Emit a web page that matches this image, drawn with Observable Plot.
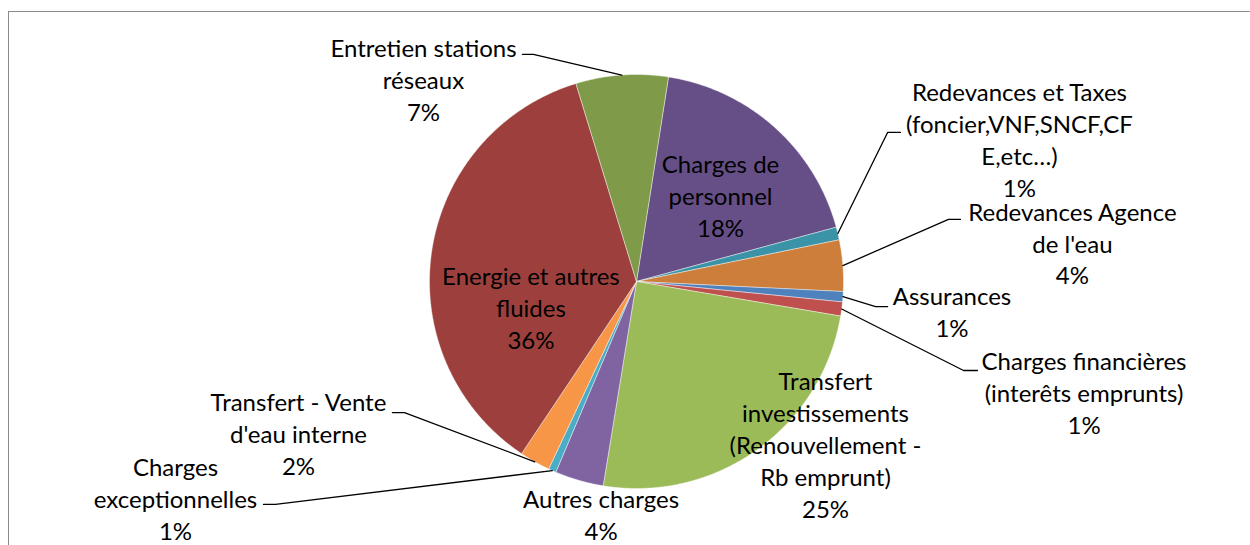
<!DOCTYPE html>
<html><head><meta charset="utf-8">
<script src="https://cdn.jsdelivr.net/npm/d3@7"></script>
<script src="https://cdn.jsdelivr.net/npm/@observablehq/plot@0.6"></script>
<style>
html,body{margin:0;padding:0;background:#fff;overflow:hidden}
#wrap{position:relative;width:1250px;height:545px;overflow:hidden}
#border{position:absolute;left:8px;top:11px;width:1300px;height:600px;border-left:1.5px solid #8a8a8a;border-top:1.5px solid #8a8a8a;pointer-events:none}
svg{display:block}
</style></head><body>
<div id="wrap"><div id="chart"></div><div id="border"></div></div>
<script>
// ---- data ----
const categories = [
  "Charges de personnel",
  "Redevances et Taxes (foncier,VNF,SNCF,CFE,etc…)",
  "Redevances Agence de l'eau",
  "Assurances",
  "Charges financières (interêts emprunts)",
  "Transfert investissements (Renouvellement - Rb emprunt)",
  "Autres charges",
  "Charges exceptionnelles",
  "Transfert - Vente d'eau interne",
  "Energie et autres fluides",
  "Entretien stations réseaux"
];
const values = [18.3, 1.0, 4.0, 0.8, 1.1, 24.9, 3.8, 0.6, 2.4, 35.9, 7.2];
const labelLines = [
  "Charges de\npersonnel",
  "Redevances et Taxes\n(foncier,VNF,SNCF,CF\nE,etc…)",
  "Redevances Agence\nde l'eau",
  "Assurances",
  "Charges financières\n(interêts emprunts)",
  "Transfert\ninvestissements\n(Renouvellement -\nRb emprunt)",
  "Autres charges",
  "Charges\nexceptionnelles",
  "Transfert - Vente\nd'eau interne",
  "Energie et autres\nfluides",
  "Entretien stations\nréseaux"
];

// ---- style / layout ----
const colors = ["#664F87", "#3A93A6", "#CD7E3A", "#4F81BD", "#C0504D", "#9BBB59", "#8064A2", "#4BACC6", "#F79646", "#9D403D", "#7F9A48"];
const startAngle = 8.9; // degrees clockwise from 12 o'clock
// label centres, in pie-radius units
const labelPos = [
  [0.406, 0.404], [1.850, 0.675], [2.106, 0.175], [1.524, -0.156], [2.162, -0.545],
  [0.913, -0.799], [-0.171, -1.137], [-2.227, -1.059], [-1.633, -0.745], [-0.510, -0.137], [-1.029, 0.965]
];
// leader line: text attach point and elbow (null = no leader)
const leaderAttach = [null, [1.275, 0.720], [1.565, 0.300], [1.213, -0.121], [1.647, -0.430], null, null, [-1.802, -1.077], [-1.179, -0.633], null, [-0.551, 1.097]];
const leaderElbow  = [null, [1.213, 0.720], [1.507, 0.300], [1.155, -0.121], [1.580, -0.430], null, null, [-1.744, -1.077], [-1.121, -0.633], null, [-0.498, 1.097]];

const W = 1250, H = 545, cx = 636, cy = 281, R = 207;

const total = d3.sum(values);
let acc = startAngle;
const slices = categories.map((c, i) => {
  const a0 = acc, a1 = acc + values[i] / total * 360;
  acc = a1;
  return {name: c, a0, a1, mid: (a0 + a1) / 2};
});
const rad = d => d * Math.PI / 180;

const polyPts = slices.flatMap(s => {
  const n = Math.max(2, Math.ceil((s.a1 - s.a0) / 0.4));
  const pts = [{name: s.name, u: 0, v: 0}];
  for (let k = 0; k <= n; k++) {
    const a = rad(s.a0 + (s.a1 - s.a0) * k / n);
    pts.push({name: s.name, u: Math.sin(a), v: Math.cos(a)});
  }
  pts.push({name: s.name, u: 0, v: 0});
  return pts;
});

const leaderPts = slices.flatMap((s, i) => {
  if (!leaderAttach[i]) return [];
  const a = rad(s.mid);
  return [
    {name: s.name, u: leaderAttach[i][0], v: leaderAttach[i][1]},
    {name: s.name, u: leaderElbow[i][0], v: leaderElbow[i][1]},
    {name: s.name, u: Math.sin(a), v: Math.cos(a)}
  ];
});

const labels = slices.map((s, i) => ({
  name: s.name,
  u: labelPos[i][0], v: labelPos[i][1],
  text: labelLines[i] + "\n" + Math.round(values[i]) + "%"
}));

const chart = Plot.plot({
  width: W, height: H, margin: 0,
  x: {domain: [-cx / R, (W - cx) / R], axis: null},
  y: {domain: [-(H - cy) / R, cy / R], axis: null},
  color: {domain: categories, range: colors},
  style: {background: "white"},
  marks: [
    Plot.line(polyPts, {x: "u", y: "v", z: "name", fill: "name", stroke: "white", strokeWidth: 0.6, strokeOpacity: 0.7, curve: "linear"}),
    Plot.line(leaderPts, {x: "u", y: "v", z: "name", stroke: "black", strokeWidth: 1.3, strokeLinejoin: "miter", curve: "linear"}),
    Plot.text(labels, {x: "u", y: "v", dy: -3, text: "text", fontSize: 24, fontFamily: "Lato", lineHeight: 1.333, textAnchor: "middle", lineAnchor: "middle", fill: "black"})
  ]
});
document.getElementById("chart").appendChild(chart);
</script>
</body></html>
